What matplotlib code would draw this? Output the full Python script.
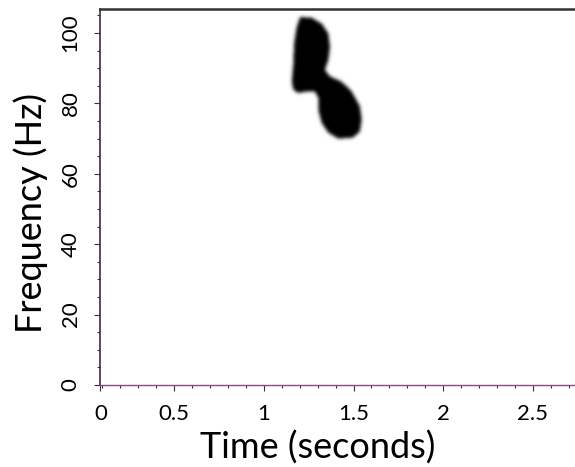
import numpy as np
import matplotlib.pyplot as plt
from matplotlib.path import Path
from matplotlib.ticker import MultipleLocator

plt.rcParams['font.family'] = ['Lato', 'DejaVu Sans']

# outline of the dark region (time in s, frequency in Hz)
blob_t = [1.202, 1.267, 1.323, 1.360, 1.369, 1.360, 1.341, 1.369, 1.434, 1.490,
          1.536, 1.546, 1.536, 1.499, 1.415, 1.360, 1.323, 1.304, 1.304, 1.286,
          1.239, 1.192, 1.165, 1.156, 1.165, 1.169, 1.184]
blob_f = [104.6, 104.4, 102.7, 99.9, 96.1, 92.4, 89.5, 87.7, 86.2, 83.4,
          79.2, 75.4, 72.1, 70.3, 70.0, 71.7, 74.5, 78.2, 81.6, 83.4,
          83.4, 83.0, 83.9, 86.2, 91.4, 97.1, 101.8]

x_ticks = [0.09, 0.5, 1.0, 1.5, 2.0, 2.5]
x_labels = ['0', '0.5', '1', '1.5', '2', '2.5']
y_ticks = [0, 20, 40, 60, 80, 100]

t_min, t_max = 0.088, 2.734
f_min, f_max = 0, 106.8

fig = plt.figure(figsize=(5.75, 4.67), dpi=100)
ax = fig.add_axes([0.174, 0.1756, 0.826, 0.805])

# rasterise the outline on a grid (2x pixel res) and soften the edge a bit
nt, nf = 950, 752
tt = np.linspace(t_min, t_max, nt)
ff = np.linspace(f_min, f_max, nf)
T, F = np.meshgrid(tt, ff)
path = Path(np.column_stack([blob_t, blob_f]))
inside = path.contains_points(np.column_stack([T.ravel(), F.ravel()]))
img = inside.reshape(nf, nt).astype(float)
k = np.exp(-0.5 * (np.arange(-12, 13) / 3.5) ** 2)
k /= k.sum()
img = np.apply_along_axis(lambda r: np.convolve(r, k, mode='same'), 1, img)
img = np.apply_along_axis(lambda c: np.convolve(c, k, mode='same'), 0, img)

ax.imshow(img, cmap='gray_r', vmin=0, vmax=1, origin='lower',
          extent=[t_min, t_max, f_min, f_max], aspect='auto',
          interpolation='bilinear')

ax.set_xlim(t_min, t_max)
ax.set_ylim(f_min, f_max)

ax.spines['right'].set_visible(False)
ax.spines['top'].set_color('#333333')
ax.spines['top'].set_linewidth(1.8)
ax.spines['left'].set_color('#4e1f4e')
ax.spines['left'].set_linewidth(1.2)
ax.spines['bottom'].set_color('#8a4a80')
ax.spines['bottom'].set_linewidth(1.0)

ax.set_xticks(x_ticks, x_labels)
ax.set_yticks(y_ticks)
ax.xaxis.set_minor_locator(MultipleLocator(0.1))
ax.yaxis.set_minor_locator(MultipleLocator(5))
ax.tick_params(which='major', length=4, width=0.8, color='#333333',
               labelsize=16, pad=10, top=False, right=False)
ax.tick_params(which='minor', length=2.5, width=0.8, color='#333333',
               top=False, right=False)
ax.tick_params(axis='y', labelrotation=90, pad=10)
for lab in ax.get_yticklabels():
    lab.set_va('center')

ax.set_xlabel('Time (seconds)', fontsize=26)
ax.xaxis.set_label_coords(0.458, -0.12)
ax.set_ylabel('Frequency (Hz)', fontsize=26)
ax.yaxis.set_label_coords(-0.11, 0.457)

fig.savefig('out.png', dpi=100)
